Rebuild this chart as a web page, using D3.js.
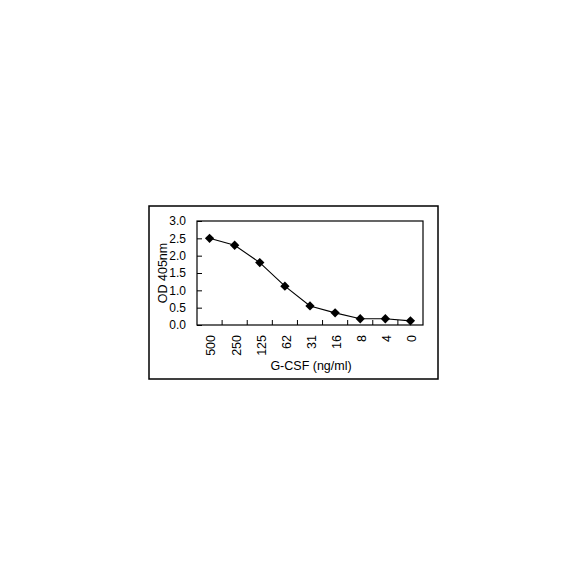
<!DOCTYPE html>
<html>
<head>
<meta charset="utf-8">
<script src="https://cdn.jsdelivr.net/npm/d3@7"></script>
<style>
  body { margin: 0; background: #fff; }
  text { font-family: "Liberation Sans", Arial, sans-serif; fill: #000; }
</style>
</head>
<body>
<div id="chart"></div>
<script>
// data
var doses = ["500", "250", "125", "62", "31", "16", "8", "4", "0"];
var od = [2.5, 2.3, 1.8, 1.12, 0.55, 0.35, 0.18, 0.18, 0.12];
var yTicks = [0, 0.5, 1.0, 1.5, 2.0, 2.5, 3.0];

var svg = d3.select("#chart").append("svg")
    .attr("width", 584)
    .attr("height", 584);

// outer frame
svg.append("rect")
    .attr("x", 149).attr("y", 206)
    .attr("width", 289).attr("height", 173)
    .attr("fill", "none")
    .attr("stroke", "#000")
    .attr("stroke-width", 1.5);

var plot = {left: 197, top: 221, right: 423, bottom: 325};

var x = d3.scaleBand().domain(doses).range([plot.left, plot.right]);
var y = d3.scaleLinear().domain([0, 3]).range([plot.bottom, plot.top]);

var g = svg.append("g");

// plot box
g.append("rect")
    .attr("x", plot.left).attr("y", plot.top)
    .attr("width", plot.right - plot.left)
    .attr("height", plot.bottom - plot.top)
    .attr("fill", "none")
    .attr("stroke", "#000")
    .attr("stroke-width", 1.2);

// y axis, ticks inside
var yAxis = g.append("g")
    .attr("transform", "translate(" + plot.left + ",0)")
    .call(d3.axisLeft(y).tickValues(yTicks).tickFormat(d3.format(".1f")).tickSizeInner(-5).tickSizeOuter(0).tickPadding(11));
yAxis.select(".domain").remove();
yAxis.selectAll("text").style("font-size", "12px").attr("fill", "#000");
yAxis.selectAll("line").attr("stroke", "#000");

// x ticks at category boundaries, inside
var bounds = doses.slice(1).map(function(d) { return x(d); });
g.selectAll(".xtick").data(bounds).enter().append("line")
    .attr("x1", function(d) { return d; })
    .attr("x2", function(d) { return d; })
    .attr("y1", plot.bottom)
    .attr("y2", plot.bottom - 5)
    .attr("stroke", "#000");

// x labels rotated
g.selectAll(".xlab").data(doses).enter().append("text")
    .attr("transform", function(d) {
      return "translate(" + (x(d) + x.bandwidth() / 2 + 1.5) + "," + (plot.bottom + 10) + ") rotate(-90)";
    })
    .attr("text-anchor", "end")
    .attr("dy", "0.35em")
    .style("font-size", "12.5px")
    .text(function(d) { return d; });

// line + diamonds
var line = d3.line()
    .x(function(d, i) { return x(doses[i]) + x.bandwidth() / 2; })
    .y(function(d) { return y(d); });

g.append("path")
    .datum(od)
    .attr("d", line)
    .attr("fill", "none")
    .attr("stroke", "#000")
    .attr("stroke-width", 1.1);

g.selectAll(".pt").data(od).enter().append("path")
    .attr("d", d3.symbol().type(d3.symbolDiamond2).size(55))
    .attr("transform", function(d, i) {
      return "translate(" + (x(doses[i]) + x.bandwidth() / 2) + "," + y(d) + ")";
    })
    .attr("fill", "#000");

// axis titles
svg.append("text")
    .attr("x", 311)
    .attr("y", 370)
    .attr("text-anchor", "middle")
    .style("font-size", "12.5px")
    .text("G-CSF (ng/ml)");

svg.append("text")
    .attr("transform", "translate(162.5," + (plot.top + plot.bottom) / 2 + ") rotate(-90)")
    .attr("text-anchor", "middle")
    .attr("dy", "0.35em")
    .style("font-size", "12.5px")
    .text("OD 405nm");
</script>
</body>
</html>
